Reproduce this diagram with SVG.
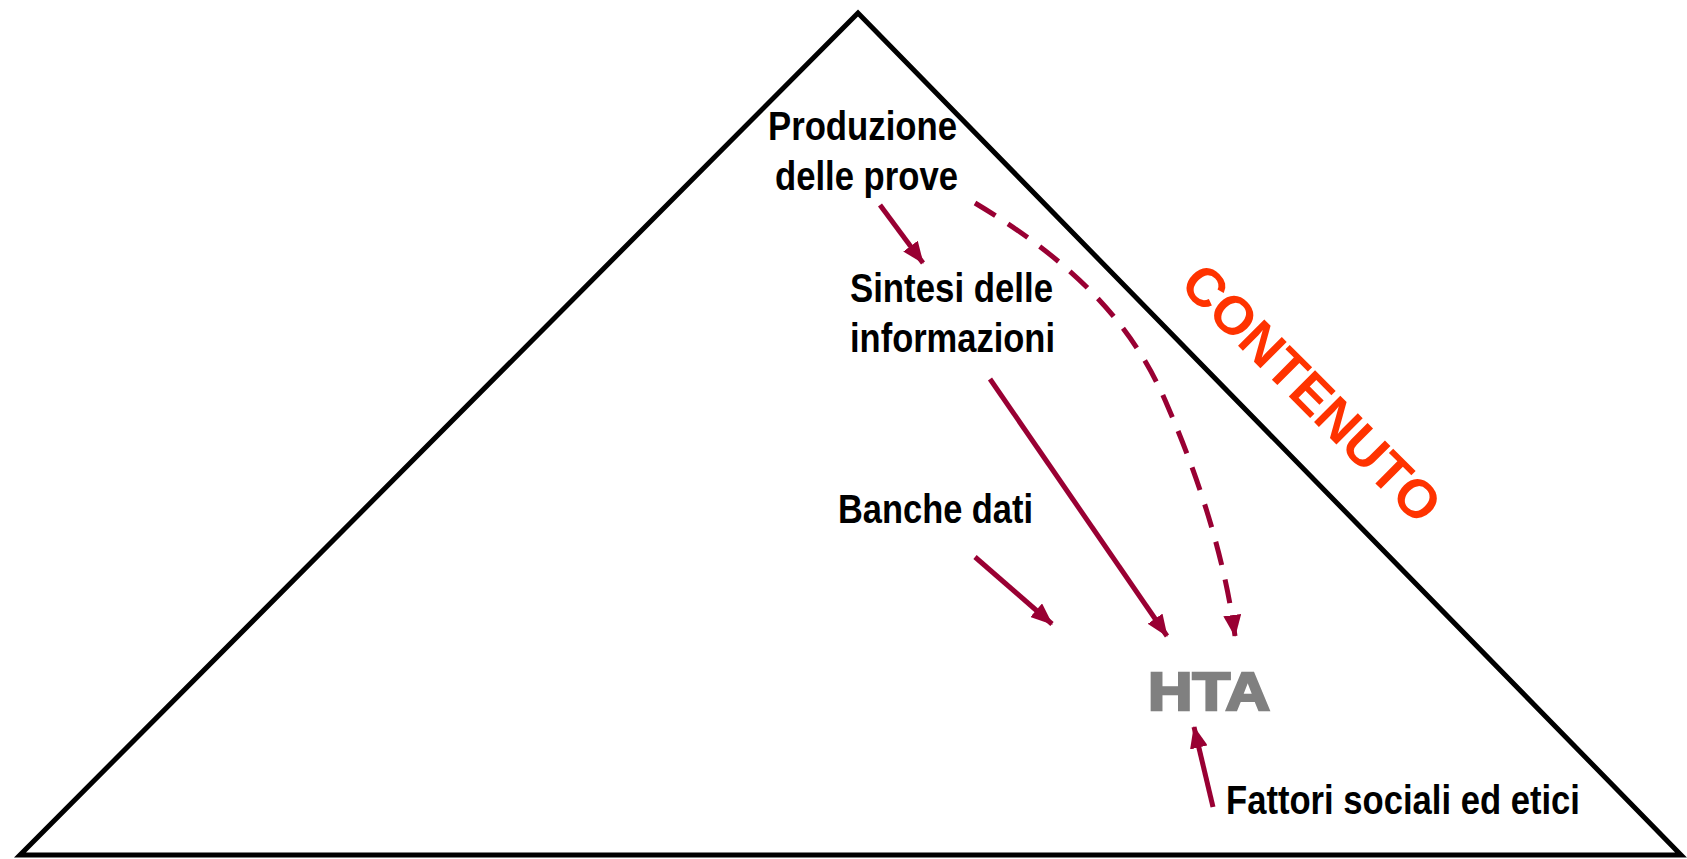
<svg xmlns="http://www.w3.org/2000/svg" width="1687" height="859" viewBox="0 0 1687 859">
<style>
.lbl{font-family:"Liberation Sans Narrow","Liberation Sans",Arial,sans-serif;font-weight:bold;font-size:40px;fill:#000}
.arr{stroke:#990033;stroke-width:5;fill:none;marker-end:url(#ah)}
</style>
<defs>
<marker id="ah" markerUnits="userSpaceOnUse" viewBox="0 0 22 18" refX="21" refY="9" markerWidth="22" markerHeight="18" orient="auto">
<path d="M0,0 L22,9 L0,18 Z" fill="#990033"/>
</marker>
</defs>
<rect width="1687" height="859" fill="#fff"/>
<g id="pyramid">
<polygon points="858,13 20,855 1681,855" fill="none" stroke="#000" stroke-width="5" stroke-linejoin="miter"/>
</g>
<g id="contenuto">
<text transform="translate(1312,393) rotate(45)" y="19" text-anchor="middle" font-family="Liberation Sans, Arial, sans-serif" font-weight="bold" font-size="54" fill="#FF3300" textLength="340" lengthAdjust="spacingAndGlyphs">CONTENUTO</text>
</g>
<g id="produzione">
<text class="lbl" x="768" y="140" textLength="189" lengthAdjust="spacingAndGlyphs">Produzione</text>
<text class="lbl" x="775" y="190" textLength="183" lengthAdjust="spacingAndGlyphs">delle prove</text>
</g>
<g id="sintesi">
<text class="lbl" x="850" y="302" textLength="203" lengthAdjust="spacingAndGlyphs">Sintesi delle</text>
<text class="lbl" x="850" y="352" textLength="205" lengthAdjust="spacingAndGlyphs">informazioni</text>
</g>
<g id="banche">
<text class="lbl" x="838" y="523" textLength="195" lengthAdjust="spacingAndGlyphs">Banche dati</text>
</g>
<g id="hta">
<text x="1148" y="710" font-family="Liberation Sans, Arial, sans-serif" font-weight="bold" font-size="53" fill="#808080" stroke="#808080" stroke-width="2.5" textLength="122" lengthAdjust="spacingAndGlyphs">HTA</text>
</g>
<g id="fattori">
<text class="lbl" x="1226" y="814" textLength="354" lengthAdjust="spacingAndGlyphs">Fattori sociali ed etici</text>
</g>
<g id="connectors">
<line class="arr" x1="880" y1="205" x2="923" y2="263"/>
<path class="arr" d="M975,203 C1070,260 1130,320 1165,400 S1225,560 1235,636" stroke-dasharray="24,15"/>
<line class="arr" x1="990" y1="379" x2="1167" y2="636"/>
<line class="arr" x1="975" y1="557" x2="1052" y2="624"/>
<line class="arr" x1="1213" y1="807" x2="1194" y2="727"/>
</g>
</svg>
